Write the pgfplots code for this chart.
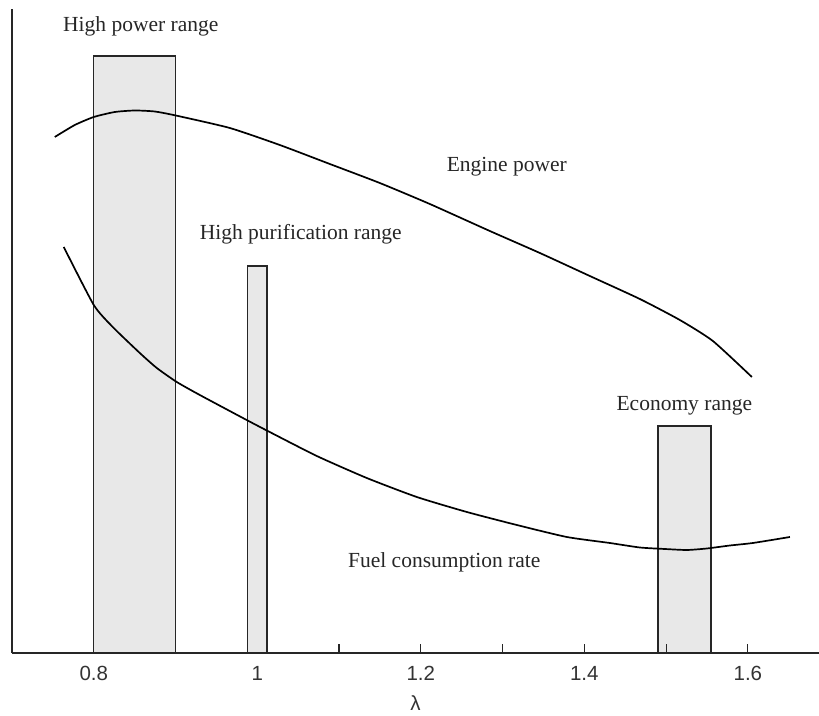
\documentclass[border=0pt]{standalone}
\usepackage{pgfplots}
\pgfplotsset{compat=1.18}
\usepackage{fontspec}
\setmainfont{Liberation Serif}
\newfontfamily\sansfont{Liberation Sans}

% Operating ranges (rectangles from lambda_min to lambda_max, height h)
% Engine power and fuel consumption curves versus excess-air ratio lambda
\tikzset{lbl/.style={font=\fontsize{21.5bp}{24bp}\selectfont, text=black!85}}

\begin{document}
\begin{tikzpicture}
\begin{axis}[
  scale only axis,
  width=807bp, height=644bp,
  xmin=0.7, xmax=1.687,
  ymin=0, ymax=644,
  axis x line=bottom,
  axis y line=left,
  axis line style={-, line width=1.2pt, black!85},
  axis on top,
  ytick=\empty,
  xtick={0.8,1.2,1.4,1.6},
  xticklabels={0.8,1.2,1.4,1.6},
  minor xtick={0.9,1.1,1.3,1.5},
  extra x ticks={1},
  extra x tick labels={1},
  extra x tick style={major tick length=0pt},
  xtick align=inside,
  major tick length=9bp,
  minor tick length=9bp,
  tick style={line width=1.2pt, black!85},
  xticklabel style={font=\sansfont\fontsize{20.5bp}{23bp}\selectfont, text=black!80, yshift=-9.5bp},
  xlabel={\sansfont\fontsize{20.5bp}{23bp}\selectfont λ},
  xlabel style={text=black!80, inner sep=0pt, at={(axis description cs:0.5,0)}, anchor=center, yshift=-50bp},
  clip=false,
]
  % operating ranges
  \addplot[fill=black!9, draw=black!85, line width=1.3pt]
    coordinates {(0.8,0) (0.8,597) (0.9,597) (0.9,0)} --cycle;
  \addplot[fill=black!9, draw=black!85, line width=1.3pt]
    coordinates {(0.988,0) (0.988,387) (1.012,387) (1.012,0)} --cycle;
  \addplot[fill=black!9, draw=black!85, line width=1.3pt]
    coordinates {(1.490,0) (1.490,227) (1.555,227) (1.555,0)} --cycle;

  % engine power
  \addplot[black, line width=1.7pt, smooth, tension=0.35] coordinates {
    (0.7523,516) (0.7768,528) (0.8000,536) (0.8257,541) (0.8502,542.5)
    (0.8746,541.5) (0.9003,537.5) (0.9664,525) (1.0275,508) (1.0887,489)
    (1.1498,470) (1.2110,449) (1.2844,422) (1.3456,400) (1.4067,377)
    (1.4679,354) (1.5168,333) (1.5572,312) (1.6049,276)};

  % fuel consumption rate
  \addplot[black, line width=1.7pt, smooth, tension=0.35] coordinates {
    (0.7633,406) (0.8000,348) (0.8232,326) (0.8563,300) (0.8771,285)
    (0.9015,271) (0.9297,258) (0.9847,234) (1.0128,222) (1.0728,197)
    (1.1339,175) (1.1951,156) (1.2563,141) (1.3174,128) (1.3786,116)
    (1.4312,110) (1.4679,105.5) (1.4985,104) (1.5254,103) (1.5498,104.5)
    (1.5780,107.5) (1.6061,110) (1.6514,116)};

  \node[lbl] at (axis cs:0.8575,627) {High power range};
  \node[lbl] at (axis cs:1.3052,486) {Engine power};
  \node[lbl] at (axis cs:1.0532,419) {High purification range};
  \node[lbl] at (axis cs:1.5223,247) {Economy range};
  \node[lbl] at (axis cs:1.2287,91) {Fuel consumption rate};

  \coordinate (ll) at (rel axis cs:0,0);
  \coordinate (ur) at (rel axis cs:1,1);
\end{axis}
\pgfresetboundingbox
\useasboundingbox ([xshift=-12bp,yshift=-63bp]ll) rectangle ([yshift=9bp]ur);
\end{tikzpicture}
\end{document}
